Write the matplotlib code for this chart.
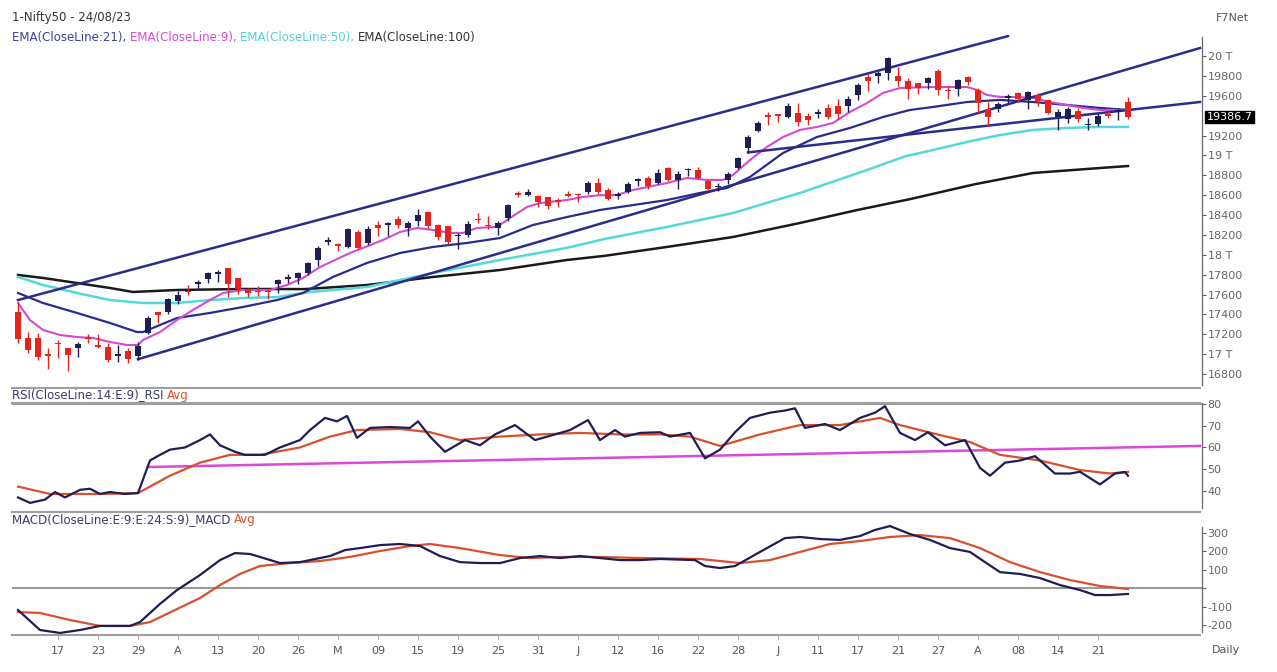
import matplotlib
matplotlib.use("Agg")
import matplotlib.pyplot as plt
from matplotlib.lines import Line2D
from matplotlib.transforms import blended_transform_factory
import numpy as np

W, H = 1277, 672

# daily candles, bar 0 = 13 Mar 2023 ... bar 111 = 24 Aug 2023
opens = [17421, 17160, 17166, 16994, 17111, 17066, 17060, 17178, 17097, 17077, 16985, 17031, 16977,
         17210, 17428, 17422, 17533, 17634, 17704, 17759, 17807, 17863, 17767, 17654, 17638, 17639,
         17707, 17761, 17767, 17813, 17950, 18124, 18113, 18082, 18234, 18121, 18303, 18300, 18357,
         18273, 18339, 18432, 18300, 18287, 18187, 18201, 18362, 18295, 18269, 18369, 18619, 18606,
         18594, 18579, 18551, 18612, 18600, 18635, 18725, 18655, 18596, 18631, 18744, 18774, 18723,
         18873, 18752, 18850, 18853, 18742, 18682, 18748, 18875, 19076, 19246, 19390, 19405, 19385,
         19422, 19400, 19414, 19480, 19496, 19493, 19612, 19787, 19802, 19831, 19800, 19749, 19729,
         19733, 19850, 19659, 19666, 19784, 19655, 19463, 19463, 19577, 19627, 19554, 19605, 19554,
         19383, 19369, 19450, 19301, 19320, 19418, 19440, 19535]
highs = [17529, 17224, 17211, 17062, 17145, 17066, 17127, 17207, 17205, 17110, 17091, 17062, 17126,
         17381, 17428, 17570, 17638, 17694, 17748, 17825, 17842, 17863, 17767, 17666, 17684, 17664,
         17754, 17807, 17827, 17931, 18089, 18180, 18116, 18267, 18250, 18287, 18344, 18326, 18389,
         18342, 18459, 18432, 18309, 18288, 18218, 18335, 18419, 18392, 18338, 18508, 18641, 18662,
         18603, 18580, 18574, 18641, 18622, 18738, 18777, 18676, 18633, 18728, 18769, 18794, 18864,
         18881, 18839, 18876, 18886, 18756, 18722, 18829, 18984, 19201, 19345, 19434, 19421, 19524,
         19524, 19423, 19463, 19513, 19568, 19595, 19731, 19819, 19852, 19991, 19887, 19782, 19729,
         19791, 19867, 19695, 19772, 19795, 19678, 19538, 19539, 19620, 19634, 19645, 19624, 19557,
         19465, 19482, 19472, 19374, 19425, 19443, 19472, 19584]
lows = [17113, 17016, 16938, 16850, 16958, 16828, 16972, 17115, 17061, 16917, 16919, 16914, 16941,
        17204, 17312, 17402, 17502, 17597, 17655, 17717, 17729, 17574, 17610, 17580, 17584, 17554,
        17612, 17716, 17711, 17797, 17885, 18101, 18043, 18066, 18055, 18101, 18194, 18194, 18270,
        18194, 18287, 18264, 18147, 18104, 18060, 18178, 18324, 18262, 18202, 18342, 18581, 18588,
        18483, 18464, 18478, 18582, 18531, 18615, 18615, 18555, 18559, 18623, 18690, 18660, 18710,
        18739, 18660, 18794, 18759, 18647, 18646, 18714, 18862, 19024, 19234, 19301, 19339, 19379,
        19299, 19301, 19378, 19362, 19361, 19433, 19562, 19652, 19727, 19758, 19700, 19563, 19615,
        19666, 19603, 19563, 19597, 19704, 19424, 19296, 19436, 19524, 19533, 19467, 19495, 19412,
        19257, 19325, 19334, 19254, 19296, 19377, 19351, 19369]
closes = [17154, 17043, 16972, 16985, 17100, 16988, 17107, 17151, 17077, 16945, 16986, 16951, 17081,
          17360, 17398, 17557, 17599, 17624, 17722, 17812, 17828, 17707, 17660, 17618, 17624, 17624,
          17744, 17769, 17814, 17915, 18065, 18148, 18090, 18256, 18069, 18264, 18265, 18315, 18297,
          18315, 18399, 18287, 18181, 18129, 18203, 18314, 18348, 18285, 18321, 18499, 18599, 18633,
          18534, 18488, 18534, 18594, 18599, 18726, 18635, 18563, 18601, 18716, 18755, 18688, 18826,
          18755, 18817, 18857, 18771, 18665, 18691, 18817, 18972, 19189, 19322, 19389, 19399, 19497,
          19332, 19356, 19439, 19385, 19414, 19565, 19711, 19749, 19833, 19979, 19745, 19672, 19680,
          19778, 19659, 19646, 19754, 19734, 19527, 19382, 19517, 19597, 19571, 19633, 19543, 19428,
          19435, 19465, 19365, 19310, 19394, 19396, 19444, 19386.7]

tick_bars = list(range(4, 112, 4))
tick_labels = ["17", "23", "29", "A", "13", "20", "26", "M", "09", "15", "19", "25", "31", "J",
               "12", "16", "22", "28", "J", "11", "17", "21", "27", "A", "08", "14", "21"]

# EMA readings (bar position, value)
ema9_x = [0, 1.2, 2.5, 4.2, 5.9, 7.5, 9.2, 10.9, 12, 12.5, 14.2, 15.9, 17.5, 19.2, 20.5, 22.5, 25.2,
          26.9, 28.5, 30.2, 33.2, 36.5, 38.2, 39.9, 41.5, 43.2, 44.5, 45.9, 47.9, 49.2, 50.9, 52.2,
          54.9, 56.5, 58.2, 59.9, 61.5, 64.9, 66.9, 68.9, 70.5, 71.5, 73.2, 74.9, 76.5, 78.2, 79.9,
          81.5, 83.2, 84.9, 86.5, 88.2, 91.5, 94.9, 95.9, 96.9, 98.2, 99.9, 101.5, 103.2, 104.9,
          106.5, 108.2, 111]
ema9 = [17515, 17344, 17244, 17193, 17173, 17163, 17123, 17093, 17093, 17143, 17223, 17344, 17445,
        17545, 17616, 17646, 17646, 17696, 17767, 17877, 18018, 18149, 18229, 18270, 18250, 18220,
        18220, 18270, 18280, 18370, 18481, 18521, 18551, 18582, 18600, 18602, 18652, 18722, 18773,
        18753, 18753, 18803, 18954, 19085, 19185, 19256, 19286, 19326, 19437, 19527, 19628, 19678,
        19688, 19688, 19658, 19608, 19588, 19588, 19578, 19537, 19507, 19477, 19457, 19457]

ema21_x = [0, 2.5, 5.9, 9.2, 11.9, 12.5, 14.2, 15.9, 19.2, 22.5, 25.9, 28.5, 31.5, 34.9, 38.2, 41.5,
           44.9, 48.2, 51.5, 54.9, 58.2, 64.9, 68.2, 70.9, 73.2, 76.5, 79.9, 83.2, 86.5, 89.2, 91.5,
           94.9, 98.2, 101.5, 104.9, 108.2, 111]
ema21 = [17616, 17515, 17415, 17314, 17223, 17223, 17294, 17364, 17415, 17475, 17545, 17616, 17777,
         17918, 18018, 18079, 18119, 18169, 18300, 18380, 18451, 18551, 18622, 18672, 18783, 19024,
         19185, 19276, 19386, 19457, 19487, 19537, 19558, 19537, 19507, 19477, 19457]

ema50_x = [0, 2.5, 5.9, 9.2, 12.5, 15.9, 19.2, 22.5, 25.9, 29.2, 34.9, 41.5, 48.2, 54.9, 58.7, 64.9,
           71.5, 78.2, 84.9, 88.7, 91.5, 94.9, 98.2, 101.5, 104.9, 108.2, 111]
ema50 = [17777, 17696, 17616, 17545, 17515, 17515, 17545, 17565, 17575, 17626, 17676, 17817, 17948,
         18070, 18160, 18280, 18420, 18622, 18853, 18990, 19054, 19135, 19205, 19256, 19276, 19286,
         19286]

ema100_x = [0, 2.5, 5.9, 9.2, 11.5, 15.9, 22.5, 28.7, 34.9, 41.5, 48.2, 54.9, 58.7, 64.9, 71.5, 78.2,
            83.9, 89.2, 95.7, 101.5, 108.2, 111]
ema100 = [17797, 17767, 17716, 17666, 17626, 17646, 17656, 17655, 17696, 17777, 17847, 17948, 17990,
          18079, 18179, 18320, 18450, 18560, 18710, 18823, 18873, 18893]

# hand-drawn trend lines (bar, price)
channel_top = ([0, 99], [17545, 20200])
channel_low = ([12, 118.2], [16950, 20080])
support_line = ([73, 118.2], [19030, 19537])

# RSI panel
rsi_x = [0, 1.2, 2.7, 3.7, 4.7, 6.2, 7.2, 8.2, 9.2, 10.7, 12, 13.2, 14.2, 15.2, 16.7, 18.2, 19.2, 20.2,
         21.7, 22.7, 24.7, 26.2, 28.2, 29.2, 30.7, 31.9, 32.9, 33.9, 35.2, 37.2, 39.2, 40, 41.2, 42.7,
         44.7, 46.2, 47.7, 49.7, 51.7, 53.7, 55.2, 57, 58.2, 59.7, 60.7, 62.2, 64.2, 65.2, 67.2, 68.7,
         70.2, 71.7, 73.2, 75.2, 76.7, 77.7, 78.7, 80.7, 82.2, 84.2, 85.7, 86.7, 88.2, 89.7, 91, 92.7,
         94.7, 96.2, 97.2, 98.7, 100.2, 101.7, 103.7, 105.2, 106.2, 108.2, 109.7, 110.7, 111]
rsi = [37, 34.5, 36, 39.5, 37, 40.5, 41, 38.6, 39.5, 38.6, 39, 54, 56.6, 59, 60, 63.4, 66, 61, 58,
       56.6, 56.6, 60, 63.4, 68, 73.6, 72, 74.5, 64.4, 69, 69.4, 69, 72, 65, 58, 63.4, 61, 66, 70.3,
       63.4, 66, 68, 72.6, 63.4, 68, 65, 66.7, 67, 65, 66.7, 55, 59, 67, 73.6, 76, 77, 78, 69, 70.8, 68,
       73.6, 76, 79, 66.7, 63.4, 67, 61, 63.4, 50.6, 47, 53, 54, 56, 48, 48, 48.8, 43, 48, 48.7, 47]
rsi_avg_x = [0, 3.2, 8.2, 12, 15.2, 18.2, 21.2, 24.2, 28.2, 31.2, 33.9, 38.2, 41.2, 44.2, 48.2, 52.2,
             56.2, 60.2, 64.2, 67.2, 70.2, 74.2, 78.2, 82.2, 86.2, 88.2, 92.2, 95.2, 98.2, 102.2, 106.2,
             109.2, 111]
rsi_avg = [42, 38.6, 38.6, 39, 47, 53, 56.6, 56.6, 60, 65, 68, 68.5, 67, 63.4, 65, 66, 66.7, 66, 66,
           65, 60.7, 66, 70.3, 70.3, 73.6, 70.3, 65.7, 62.5, 56.6, 54, 49.6, 48, 48.8]
rsi_trend = ([13, 118.2], [51, 60.7])

# MACD panel
macd_x = [0, 2.2, 4.2, 6.2, 8.2, 11.2, 12.2, 14.2, 15.9, 18.2, 20.2, 21.7, 23.2, 24.2, 26.2, 28.2,
          31.2, 32.7, 34.2, 36.2, 38.2, 40.2, 42.2, 44.2, 46.2, 48.2, 50.2, 52.2, 54.2, 56.2, 58.2,
          60.2, 62.2, 64.2, 67.7, 68.7, 70.2, 71.7, 74.2, 76.7, 78.2, 80.2, 82.2, 84.2, 85.7, 87.2,
          89.2, 91.2, 93.2, 95.2, 96.7, 98.2, 100.2, 102.2, 104.2, 106.2, 107.7, 109.2, 111]
macd = [-119, -227, -243, -227, -205, -205, -184, -86, -11, 70, 151, 189, 184, 168, 135, 140, 173, 205,
        216, 232, 238, 227, 173, 140, 135, 135, 162, 173, 162, 173, 162, 151, 151, 157, 151, 119, 108,
        119, 195, 270, 276, 265, 260, 281, 314, 335, 292, 260, 216, 195, 140, 86, 76, 54, 16, -11, -38,
        -38, -32]
macd_avg_x = [0, 2.2, 5.2, 8.2, 11.2, 13.2, 15.7, 18.2, 20.2, 22.2, 24.2, 27.2, 30.2, 33.2, 36.2,
              39.2, 41.2, 44.2, 48.2, 51.2, 54.2, 58.2, 62.2, 68.2, 72.2, 75.2, 78.2, 81.2, 84.2, 87.2,
              90.2, 93.2, 96.2, 99.2, 102.2, 105.2, 108.2, 111]
macd_avg = [-130, -135, -173, -205, -205, -184, -119, -54, 16, 76, 119, 135, 146, 168, 200, 227, 238,
            216, 178, 162, 168, 168, 162, 157, 135, 151, 195, 238, 254, 276, 286, 270, 216, 140, 86, 43,
            11, -5]

price_ticks = [16800, 17000, 17200, 17400, 17600, 17800, 18000, 18200, 18400, 18600, 18800, 19000,
               19200, 19600, 19800, 20000]
price_labels = ["16800", "17 T", "17200", "17400", "17600", "17800", "18 T", "18200", "18400",
                "18600", "18800", "19 T", "19200", "19600", "19800", "20 T"]
rsi_ticks = [40, 50, 60, 70, 80]
macd_ticks = [-200, -100, 0, 100, 200, 300]
macd_labels = ["-200", "-100", "", "100", "200", "300"]

NAVY = "#2b2b8e"
DARK = "#1e1e55"
RED = "#e5241d"
AVG = "#d8502e"
AXC = "#666666"

fig = plt.figure(figsize=(W / 100, H / 100), dpi=100)


def px_axes(x0, y0, x1, y1):
    return fig.add_axes([x0 / W, 1 - y1 / H, (x1 - x0) / W, (y1 - y0) / H])


ax = px_axes(12, 35, 1202, 388)
rax = px_axes(12, 403, 1202, 512)
max_ = px_axes(12, 512, 1202, 635)

# --- price panel ---
ax.plot(ema100_x, ema100, color="#1a1a1a", lw=1.8, zorder=2)
ax.plot(ema50_x, ema50, color="#55d8d8", lw=1.8, zorder=2)
ax.plot(ema21_x, ema21, color=NAVY, lw=1.6, zorder=2)
ax.plot(ema9_x, ema9, color="#d44ad4", lw=1.5, zorder=2)
for xs, ys in (channel_top, channel_low, support_line):
    ax.plot(xs, ys, color=NAVY, lw=1.8, zorder=2)

o = np.array(opens, float)
c = np.array(closes, float)
hi = np.array(highs, float)
lo = np.array(lows, float)
bars = np.arange(len(c))
cols = np.where(c >= o, DARK, RED)
ax.vlines(bars, lo, hi, colors=cols, lw=1.0, zorder=3)
ax.bar(bars, np.maximum(np.abs(c - o), 14), bottom=np.minimum(o, c), width=0.62,
       color=cols, linewidth=0, zorder=4)

ax.set_ylim(16660, 20211)

# --- RSI panel ---
rax.plot(rsi_trend[0], rsi_trend[1], color="#d94ad9", lw=1.8)
rax.plot(rsi_avg_x, rsi_avg, color=AVG, lw=1.6)
rax.plot(rsi_x, rsi, color=DARK, lw=1.6)
rax.axhline(80, color="#9a9a9a", lw=1.5)
rax.set_ylim(30.3, 80.46)

# --- MACD panel ---
max_.axhline(0, color="#9a9a9a", lw=1.5)
max_.plot(macd_avg_x, macd_avg, color=AVG, lw=1.6)
max_.plot(macd_x, macd, color=DARK, lw=1.6)
max_.set_ylim(-254, 411)


def right_axis(a, ticks, labels, lo_b, hi_b):
    for s in ("top", "left", "bottom"):
        a.spines[s].set_visible(False)
    a.spines["right"].set_color(AXC)
    a.spines["right"].set_linewidth(0.9)
    a.spines["right"].set_bounds(lo_b, hi_b)
    a.yaxis.tick_right()
    a.set_yticks(ticks)
    a.set_yticklabels(labels)
    a.tick_params(axis="y", direction="out", length=3, width=0.8, colors=AXC,
                  labelsize=8, pad=1)
    a.set_xlim(-0.6, 118.4)


right_axis(ax, price_ticks, price_labels, 16690, 20190)
right_axis(rax, rsi_ticks, [str(t) for t in rsi_ticks], 32, 80.4)
right_axis(max_, macd_ticks, macd_labels, -240, 330)
ax.set_xticks([])
rax.set_xticks([])
max_.set_xticks(tick_bars)
max_.set_xticklabels(tick_labels)
max_.tick_params(axis="x", direction="out", length=3, width=0.8, colors="#c9a0a0",
                 labelcolor="#555555", labelsize=8, pad=5)

tr = blended_transform_factory(ax.transAxes, ax.transData)
ax.text(1.004, closes[-1], "19386.7", transform=tr, color="white", fontsize=8,
        va="center", ha="left",
        bbox=dict(boxstyle="square,pad=0.12", fc="black", ec="black"))

# separators
for yy in (388, 403, 512, 635):
    fig.add_artist(Line2D([12 / W, 1200 / W], [1 - yy / H] * 2, color="#a0a0a0", lw=1.5))

# texts
fig.canvas.draw()
rend = fig.canvas.get_renderer()


def text_run(x0, y, parts, size=8.5):
    x = x0
    for s, col in parts:
        t = fig.text(x / W, 1 - y / H, s, color=col, fontsize=size, va="center", ha="left")
        x += t.get_window_extent(renderer=rend).width


text_run(12, 18, [("1-Nifty50 - 24/08/23", "#333333")])
fig.text(1216 / W, 1 - 18 / H, "F7Net", color="#555555", fontsize=8, va="center")
text_run(12, 37, [("EMA(CloseLine:21), ", "#3f3fa0"), ("EMA(CloseLine:9), ", "#d44ad4"),
                  ("EMA(CloseLine:50), ", "#55d0d0"), ("EMA(CloseLine:100)", "#333333")])
text_run(12, 395, [("RSI(CloseLine:14:E:9)_RSI ", "#3a3a70"), ("Avg", AVG)])
text_run(12, 520, [("MACD(CloseLine:E:9:E:24:S:9)_MACD ", "#3a3a70"), ("Avg", AVG)])
fig.text(1212 / W, 1 - 650 / H, "Daily", color="#555555", fontsize=8, va="center")

fig.savefig("out.png", dpi=100)
